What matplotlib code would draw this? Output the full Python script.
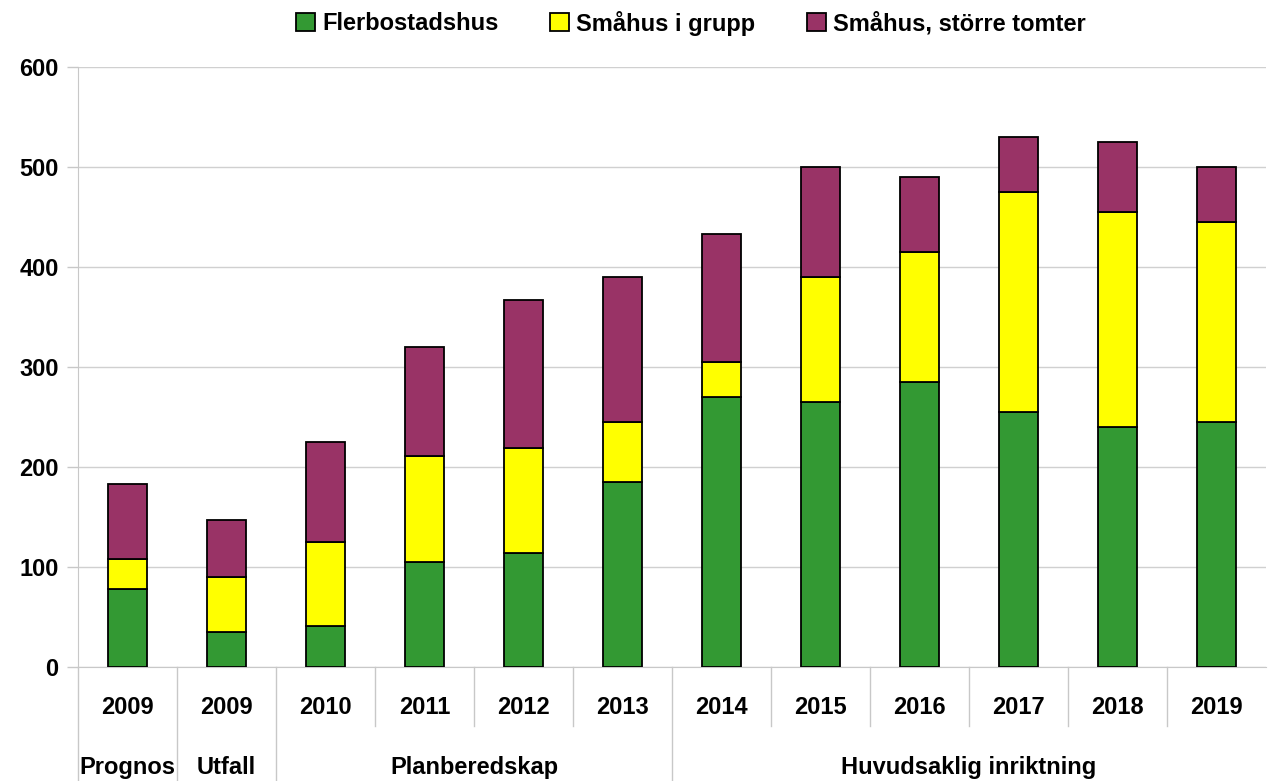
import matplotlib.pyplot as plt
import matplotlib.transforms as mtransforms

years = ['2009', '2009', '2010', '2011', '2012', '2013', '2014', '2015', '2016', '2017', '2018', '2019']
groups = ['Prognos', 'Utfall', 'Planberedskap', 'Huvudsaklig inriktning']
group_spans = [(0, 0), (1, 1), (2, 5), (6, 11)]

flerbostadshus = [78, 35, 41, 105, 114, 185, 270, 265, 285, 255, 240, 245]
smahus_grupp = [30, 55, 84, 106, 105, 60, 35, 125, 130, 220, 215, 200]
smahus_tomter = [75, 57, 100, 109, 148, 145, 128, 110, 75, 55, 70, 55]

series_names = ['Flerbostadshus', 'Småhus i grupp', 'Småhus, större tomter']
colors = ['#339933', '#FFFF00', '#993366']

plt.rcParams['font.family'] = ['Liberation Sans', 'DejaVu Sans']
plt.rcParams['font.weight'] = 'bold'
fs = 17

fig = plt.figure(figsize=(12.68, 7.81), dpi=100)
ax = fig.add_axes([78 / 1268, 1 - 667 / 781, 1188 / 1268, 600 / 781])

x = list(range(len(years)))
bottom = [0] * len(years)
for vals, name, c in zip([flerbostadshus, smahus_grupp, smahus_tomter], series_names, colors):
    ax.bar(x, vals, width=0.4, bottom=bottom, color=c, edgecolor='black', linewidth=1.3, label=name, zorder=3)
    bottom = [b + v for b, v in zip(bottom, vals)]

ax.set_xlim(-0.5, len(years) - 0.5)
ax.set_ylim(0, 600)
ax.set_yticks(range(0, 601, 100))
ax.tick_params(axis='y', labelsize=fs, length=8, color='#c8c8c8', width=1, pad=6)
ax.set_xticks([])
ax.grid(axis='y', color='#d0d0d0', linewidth=1, zorder=0)
for s in ['top', 'right']:
    ax.spines[s].set_visible(False)
ax.spines['left'].set_color('#c8c8c8')
ax.spines['bottom'].set_color('#c8c8c8')

trans = mtransforms.blended_transform_factory(ax.transData, ax.transAxes)
for i, y in enumerate(years):
    ax.text(i, -0.067, y, transform=trans, ha='center', va='center', fontsize=fs)

group_edges = {-0.5}
for (a, b), g in zip(group_spans, groups):
    group_edges.add(a - 0.5)
    group_edges.add(b + 0.5)
    ax.text((a + b) / 2, -0.168, g, transform=trans, ha='center', va='center', fontsize=fs)

for k in range(len(years)):
    xe = k - 0.5
    y_end = -0.19 if xe in group_edges else -0.098
    ax.plot([xe, xe], [0, y_end], transform=trans, color='#c8c8c8', linewidth=1, clip_on=False)

fig.legend(loc='center', bbox_to_anchor=(0.545, 1 - 23 / 781), ncol=3, frameon=False,
           fontsize=fs, handlelength=0.8, handleheight=0.8, handletextpad=0.3, columnspacing=2.2)

fig.savefig('out.png', dpi=100)
